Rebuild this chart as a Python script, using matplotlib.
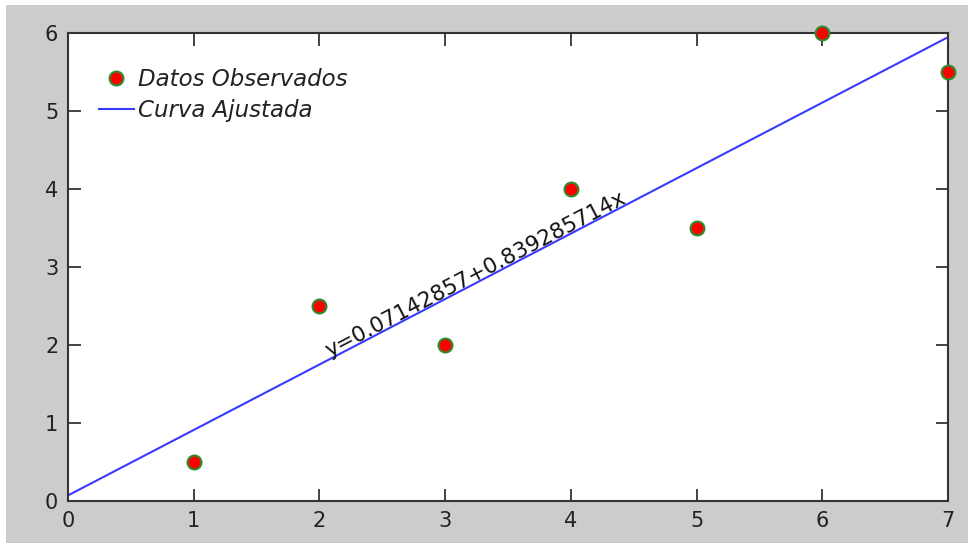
import numpy as np
import matplotlib.pyplot as plt
from matplotlib.patches import Rectangle

# datos observados
x_obs = [1, 2, 3, 4, 5, 6, 7]
y_obs = [0.5, 2.5, 2.0, 4.0, 3.5, 6.0, 5.5]

x_ticks = [0, 1, 2, 3, 4, 5, 6, 7]
y_ticks = [0, 1, 2, 3, 4, 5, 6]

# ajuste lineal
m, b = np.polyfit(x_obs, y_obs, 1)
x_fit = np.linspace(0, 7, 50)
y_fit = b + m * x_fit
eq_label = 'y=0.07142857+0.839285714x'

fig = plt.figure(figsize=(9.68, 5.43), dpi=100)
fig.patch.set_facecolor('white')
# fondo gris tipo matlab
fig.patches.append(Rectangle((6 / 968, 0), 1, 1 - 5 / 543, transform=fig.transFigure,
                             facecolor='#cccccc', edgecolor='none', zorder=-10))

ax = fig.add_axes([68 / 968, 1 - 501 / 543, 880 / 968, 468 / 543])
ax.set_facecolor('white')

ax.plot(x_obs, y_obs, 'o', color='red', markeredgecolor='#2e8b2e', markeredgewidth=1.5,
        markersize=10, clip_on=False, zorder=5, label='Datos Observados')
ax.plot(x_fit, y_fit, color='#3a3aff', lw=1.5, label='Curva Ajustada')

ax.set_xlim(0, 7)
ax.set_ylim(0, 6)
ax.set_xticks(x_ticks)
ax.set_yticks(y_ticks)
ax.tick_params(direction='in', length=9, width=1.2, top=True, right=True,
               labelsize=15, colors='#222222', pad=7)
for s in ax.spines.values():
    s.set_color('#333333')
    s.set_linewidth(1.5)

# ecuación a lo largo de la recta
p1 = ax.transData.transform((0, b))
p2 = ax.transData.transform((7, b + 7 * m))
ang = np.degrees(np.arctan2(p2[1] - p1[1], p2[0] - p1[0]))
ax.text(2.08, 1.84, eq_label, rotation=ang, rotation_mode='anchor',
        ha='left', va='baseline', fontsize=15.5, color='#111111')

leg = ax.legend(loc='upper left', frameon=False, fontsize=16.5, bbox_to_anchor=(0.025, 0.944),
                handlelength=1.5, handletextpad=0.2, labelspacing=0.35, borderaxespad=0)
for t in leg.get_texts():
    t.set_fontstyle('italic')
    t.set_color('#222222')

fig.savefig('out.png', dpi=100, facecolor=fig.get_facecolor())
